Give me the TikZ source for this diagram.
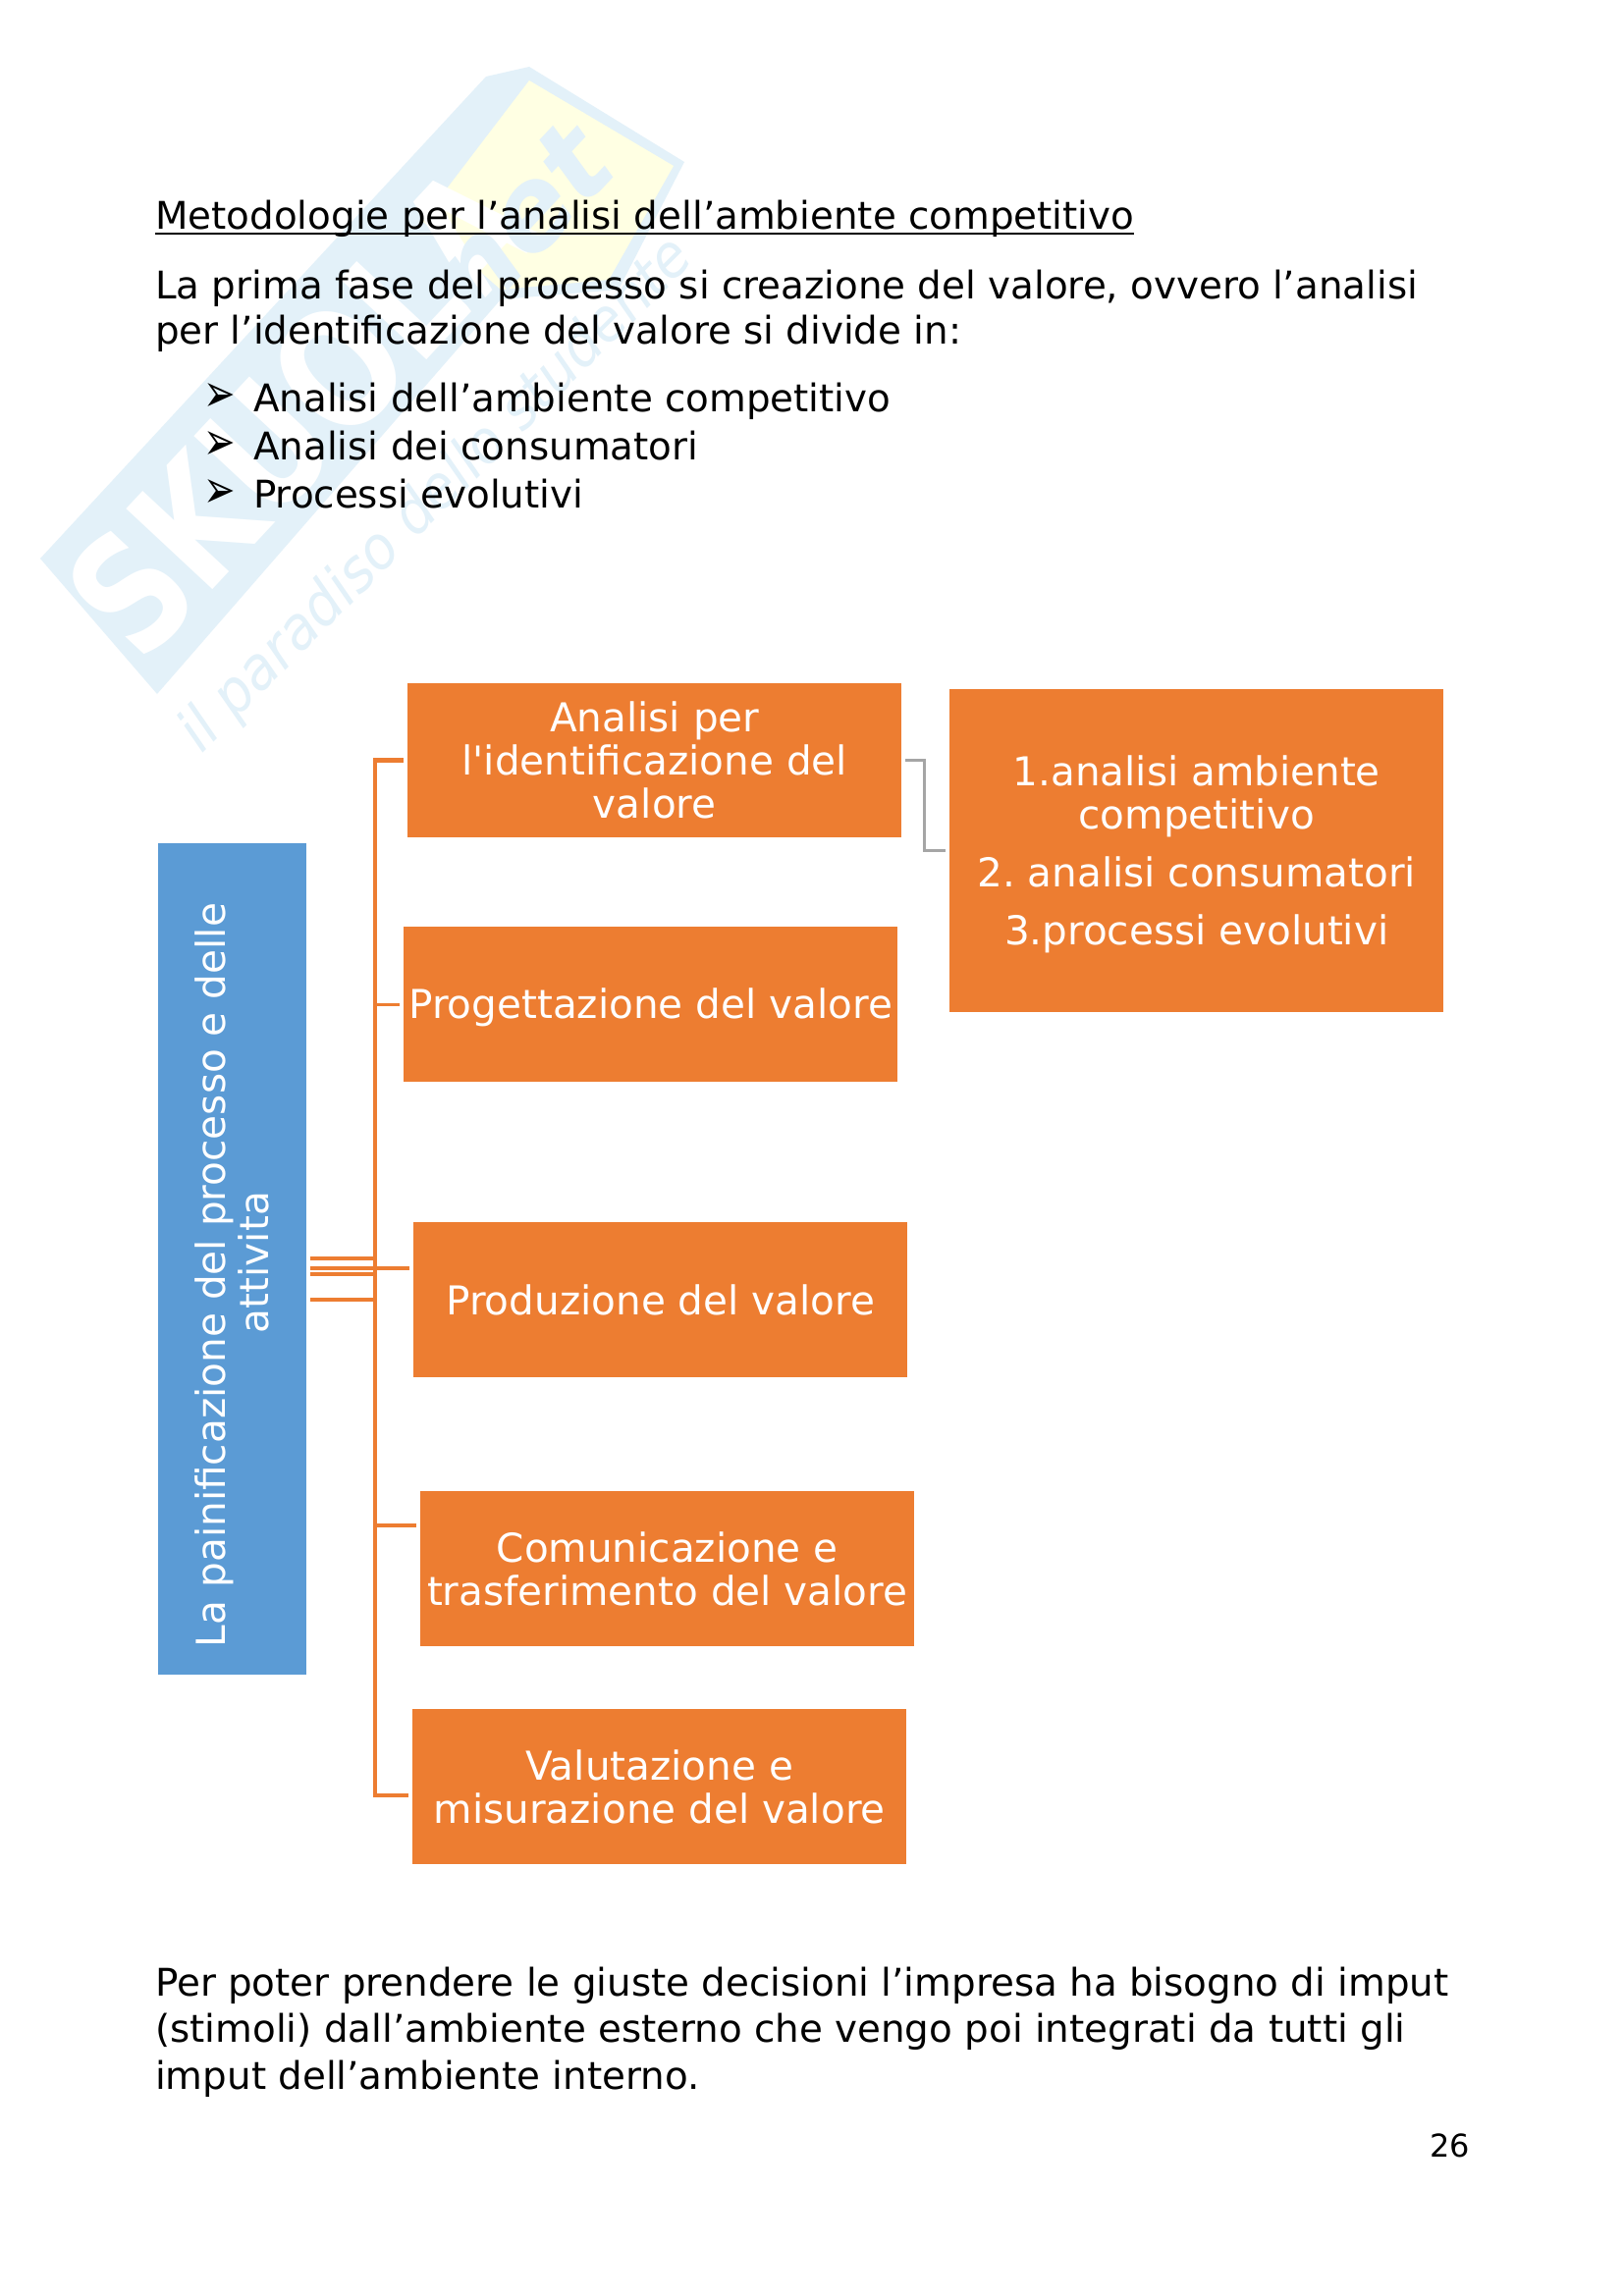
\documentclass[tikz,border=0pt]{standalone}
\usepackage{graphicx}
\usepackage{fontspec}
\setmainfont{DejaVu Sans}
\frenchspacing
\definecolor{boxorange}{HTML}{ED7D31}
\definecolor{boxblue}{HTML}{5B9BD5}
\definecolor{wmblue}{HTML}{E3F1F9}
\definecolor{wmyellow}{HTML}{FFFFE3}
\definecolor{greyline}{HTML}{A5A5A5}
\tikzset{
  x=1pt,y=-1pt,
  body/.style={anchor=base west,inner sep=0pt,font=\fontsize{38.8}{44}\selectfont},
  obox/.style={fill=boxorange,anchor=north west,inner sep=0pt,minimum width=503pt,text=white,align=center,font=\fontsize{40.5}{44}\selectfont},
  conn/.style={draw=boxorange,line width=4.5pt},
  connthin/.style={draw=boxorange,line width=3.2pt},
  gconn/.style={draw=greyline,line width=3pt},
  wmtext/.style={text=wmblue,inner sep=0pt,rotate=47}
}
\begin{document}
\begin{tikzpicture}
\useasboundingbox (0,0) rectangle (1653,2339);
\fill[white] (0,0) rectangle (1653,2339);
% watermark
\fill[wmblue] (41,569) -- (495,78) -- (539,68) -- (697,165) -- (630,295) -- (510,305) -- (160,707) -- cycle;
\fill[wmyellow] (539,82) -- (686,169) -- (620,285) -- (510,295) -- (430,225) -- cycle;
\node[wmtext,text=white,font=\bfseries\fontsize{165}{165}\selectfont] (wm1) at (305,418) {\scalebox{0.8}[1]{SKUOLA}};
\node[wmtext,font=\bfseries\itshape\fontsize{115}{115}\selectfont] (wm2) at (530,225) {net};
\node[wmtext,rotate=-2,font=\itshape\fontsize{60}{60}\selectfont] (wm3) at (445,505) {\scalebox{0.935}[1]{il paradiso dello studente}};
% text
\node[body] (title) at (158,233) {Metodologie per l’analisi dell’ambiente competitivo};
\draw[line width=2pt] ([yshift=-5pt]title.base west) -- ([yshift=-5pt]title.base east);
\node[body] (p1) at (158,304) {La prima fase del processo si creazione del valore, ovvero l’analisi};
\node[body] (p2) at (158,350) {per l’identificazione del valore si divide in:};
\node[body] (b1m) at (207,419) {\scalebox{1}[1.4]{➢}};
\node[body] (b1) at (258,419) {Analisi dell’ambiente competitivo};
\node[body] (b2m) at (207,468) {\scalebox{1}[1.4]{➢}};
\node[body] (b2) at (258,468) {Analisi dei consumatori};
\node[body] (b3m) at (207,517) {\scalebox{1}[1.4]{➢}};
\node[body] (b3) at (258,517) {Processi evolutivi};
\node[body] (q1) at (158,2033) {Per poter prendere le giuste decisioni l’impresa ha bisogno di imput};
\node[body] (q2) at (158,2080) {(stimoli) dall’ambiente esterno che vengo poi integrati da tutti gli};
\node[body] (q3) at (158,2128) {imput dell’ambiente interno.};
\node[body,font=\fontsize{32}{36}\selectfont,anchor=base east] (pg) at (1497,2197) {26};
% boxes
\node[obox,minimum height=157pt] (a) at (415,696) {Analisi per\\l\textquotesingle identificazione del\\valore};
\node[obox,minimum height=329pt] (r) at (967,702) {\rule{0pt}{38pt}1.analisi ambiente\\competitivo\\[15pt]2. analisi consumatori\\[15pt]3.processi evolutivi};
\node[obox,minimum height=158pt,text depth=2pt] (b) at (411,944) {Progettazione del valore};
\node[obox,minimum height=158pt] (c) at (421,1245) {Produzione del valore};
\node[obox,minimum height=158pt] (d) at (428,1519) {Comunicazione e\\trasferimento del valore};
\node[obox,minimum height=158pt] (e) at (420,1741) {Valutazione e\\misurazione del valore};
\node[fill=boxblue,anchor=north west,inner sep=0pt,minimum width=151pt,minimum height=847pt] (l) at (161,859) {};
\node[rotate=90,text=white,align=center,font=\fontsize{40.6}{44}\selectfont] (lt) at (236.5,1299) {La painificazione del processo e delle\\\hspace*{26pt}attivita};
% connectors
\coordinate (s1) at ([xshift=4pt]l.east|-0,1282);
\coordinate (s2) at ([xshift=4pt]l.east|-0,1292);
\coordinate (s3) at ([xshift=4pt]l.east|-0,1298);
\coordinate (s4) at ([xshift=4pt]l.east|-0,1324);
\coordinate (t) at (382,1298);
\draw[conn] (s1) -- (382,1282) |- ([xshift=-4pt]a.west);
\draw[connthin] (s2) -- ([xshift=-4pt]c.west|-0,1292);
\draw[connthin] (s3) -- (t);
\draw[connthin] (t) |- ([xshift=-4pt]b.west);
\draw[conn] (s4) -- (382,1324);
\draw[conn] (382,1282) -- (382,1324) |- ([xshift=-4pt]d.west|-0,1554);
\draw[conn] (382,1324) |- ([xshift=-4pt]e.west|-0,1829);
\draw[gconn] ([xshift=4pt]a.east) -- ([xshift=23pt]a.east) |- ([xshift=-4pt]r.west);
\end{tikzpicture}
\end{document}
